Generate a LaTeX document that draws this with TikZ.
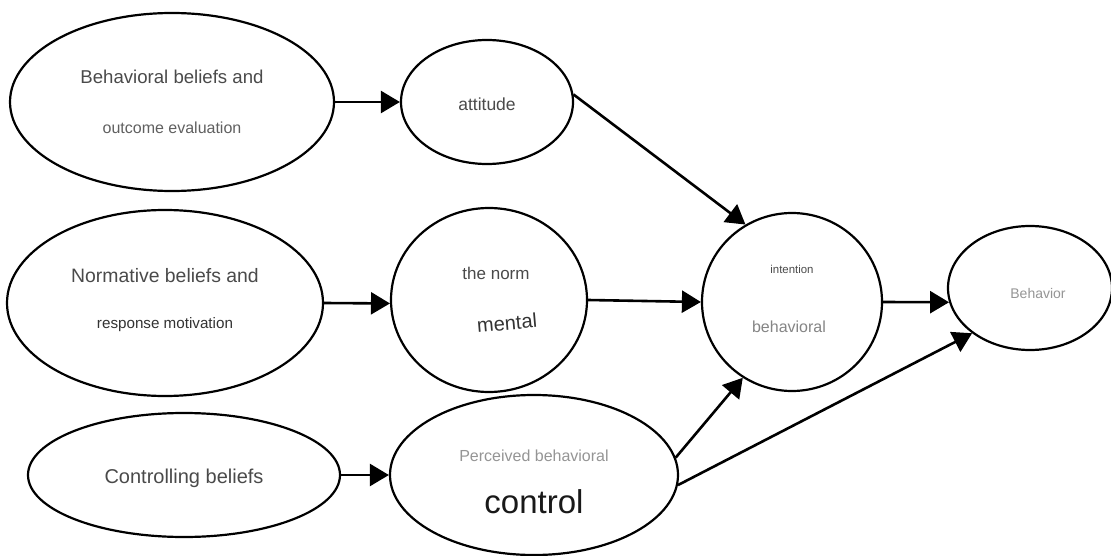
\documentclass[tikz,border=0pt]{standalone}
\usepackage{fontspec}
\setmainfont{Liberation Sans}
\usepackage{tikz}
\usetikzlibrary{arrows.meta,positioning,shapes.geometric}

\definecolor{inkA}{HTML}{333333}
\definecolor{inkB}{HTML}{4A4A4A}
\definecolor{inkC}{HTML}{606060}
\definecolor{inkD}{HTML}{858585}
\definecolor{inkE}{HTML}{959595}
\newcommand{\fsz}[1]{\fontsize{#1pt}{#1pt}\selectfont}

\begin{document}
\begin{tikzpicture}[x=1pt,y=-1pt,>={Triangle[length=19pt,width=22pt]}]
  \tikzset{
    oval/.style={draw,ellipse,line width=2.2pt,inner sep=0pt},
    lbl/.style={inner sep=0pt,align=center},
    link/.style={->,line width=2.6pt}
  }
  \useasboundingbox[fill=white] (0,0) rectangle (1111,556);

  % beliefs on the left
  \node[oval,minimum width=324pt,minimum height=178pt] (bel) at (172,102) {};
  \node[oval,minimum width=316pt,minimum height=186pt] (norb) at (165,303) {};
  \node[oval,minimum width=312pt,minimum height=124pt] (ctb) at (184,475) {};

  % middle column
  \node[oval,minimum width=172pt,minimum height=124pt] (att) at (487,102) {};
  \node[oval,minimum width=196pt,minimum height=184pt] (norm) at (489,300) {};
  \node[oval,minimum width=288pt,minimum height=160pt] (pbc) at (534,475) {};

  % intention and behavior
  \node[oval,minimum width=180pt,minimum height=178pt] (int) at (792,302) {};
  \node[oval,minimum width=164pt,minimum height=124pt] (beh) at (1030,288) {};

  % texts
  \node[lbl,font=\fsz{18.6},text=inkB] (bel-a) at ([yshift=25pt]bel.center) {Behavioral beliefs and};
  \node[lbl,font=\fsz{16},text=inkC] (bel-b) at ([yshift=-26pt]bel.center) {outcome evaluation};
  \node[lbl,font=\fsz{19.4},text=inkB] (norb-a) at ([yshift=27pt]norb.center) {Normative beliefs and};
  \node[lbl,font=\fsz{15.2},text=inkA] (norb-b) at ([yshift=-22pt]norb.center) {response motivation};
  \node[lbl,font=\fsz{20},text=inkB] (ctb-a) at ([yshift=-3pt]ctb.center) {Controlling beliefs};
  \node[lbl,font=\fsz{17.5},text=inkB] (att-a) at ([yshift=-2pt]att.center) {attitude};
  \node[lbl,font=\fsz{17},text=inkB] (norm-a) at ([xshift=7pt,yshift=27pt]norm.center) {the norm};
  \node[lbl,font=\fsz{20},text=inkA,rotate=5] (norm-b) at ([xshift=18pt,yshift=-23pt]norm.center) {mental};
  \node[lbl,font=\fsz{16},text=inkE] (pbc-a) at ([yshift=19pt]pbc.center) {Perceived behavioral};
  \node[lbl,font=\fsz{33},text=black!90] (pbc-b) at ([yshift=-27pt]pbc.center) {control};
  \node[lbl,font=\fsz{11.4},text=inkB] (int-a) at ([yshift=33pt]int.center) {intention};
  \node[lbl,font=\fsz{16},text=inkD] (int-b) at ([xshift=-3pt,yshift=-25pt]int.center) {behavioral};
  \node[lbl,font=\fsz{14},text=inkE] (beh-a) at ([xshift=8pt,yshift=-5pt]beh.center) {Behavior};

  % connectors
  \draw[link] (bel.east) -- (att.west);
  \draw[link] (norb.east) -- (norm.182);
  \draw[link] (ctb.east) -- (pbc.west);
  \draw[link] (att.5) -- (int.121);
  \draw[link] (norm.east) -- (int.west);
  \draw[link] (pbc.7) -- (int.237);
  \draw[link] (int.east) -- (beh.190);
  \draw[link] (pbc.356) -- (beh.218);
\end{tikzpicture}
\end{document}
